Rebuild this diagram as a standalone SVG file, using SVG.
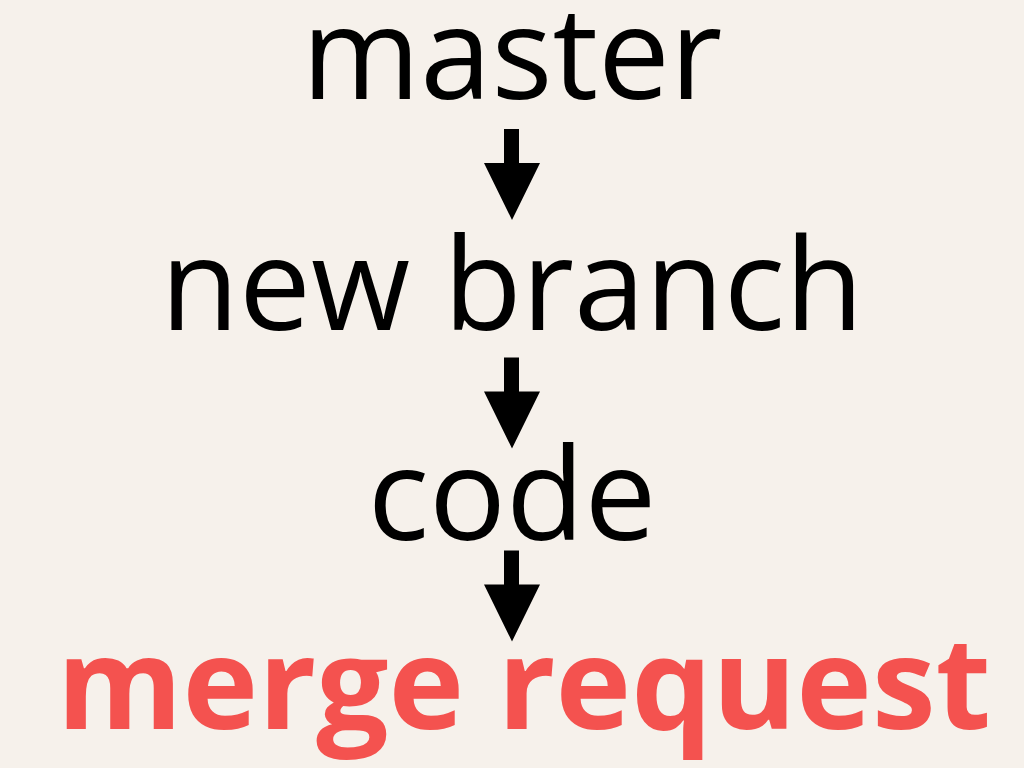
<svg xmlns="http://www.w3.org/2000/svg" width="1024" height="768" viewBox="0 0 1024 768">
<defs>
<style>
.lbl{font-family:"Open Sans","Noto Sans",sans-serif;font-size:128px;fill:#000;text-anchor:middle}
.hl{font-family:"Open Sans","Noto Sans",sans-serif;font-size:128px;font-weight:bold;fill:#f4524f;text-anchor:middle}
.arr{fill:#000}
</style>
<path id="arrow" d="M504,0 H519 V34 H540 L512,91 L484,34 H504 Z"/>
</defs>
<rect width="1024" height="768" fill="#f6f1eb"/>
<g id="node-master"><text class="lbl" x="512" y="99">master</text></g>
<g id="node-new-branch"><text class="lbl" x="512" y="330">new branch</text></g>
<g id="node-code"><text class="lbl" x="512" y="540">code</text></g>
<g id="node-merge-request"><text class="hl" x="524" y="729">merge request</text></g>
<g id="connectors" class="arr">
<use href="#arrow" y="129"/>
<use href="#arrow" y="357.5"/>
<use href="#arrow" y="550.5"/>
</g>
</svg>
